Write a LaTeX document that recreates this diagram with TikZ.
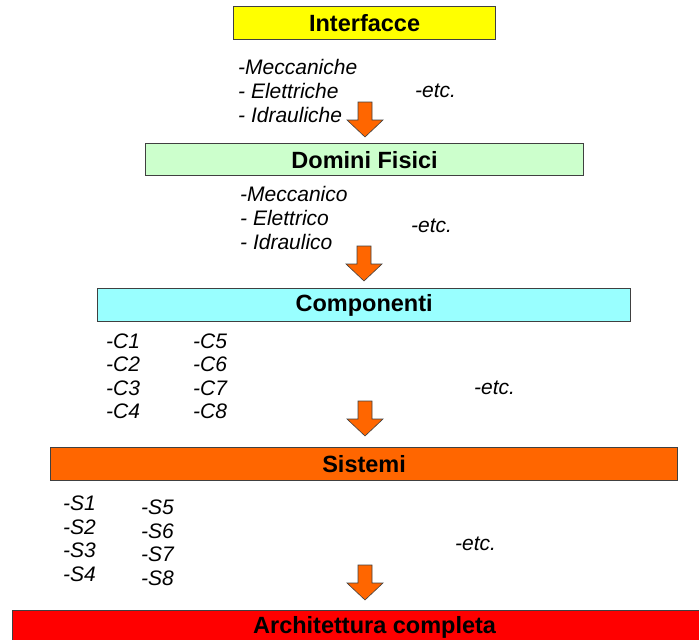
\documentclass[tikz,border=0pt]{standalone}
\usepackage{fontspec}
\setmainfont{Liberation Sans}
\definecolor{boxline}{HTML}{404040}
\definecolor{cyellow}{HTML}{FFFF00}
\definecolor{cgreen}{HTML}{CCFFCC}
\definecolor{ccyan}{HTML}{99FFFF}
\definecolor{corange}{HTML}{FF6600}
\definecolor{cred}{HTML}{FF0000}
\tikzset{
  stage/.style={draw=boxline, line width=1.2pt, anchor=north west, inner sep=0pt,
    font=\bfseries\fontsize{23.5}{27}\selectfont},
  item/.style={anchor=base west, inner sep=0pt, font=\itshape\fontsize{21}{24}\selectfont},
  blockarrow/.style={fill=corange, draw=boxline, line width=0.6pt, line join=miter},
  pics/downarrow/.style={code={
    \draw[blockarrow] (-7,0) -- (7,0) -- (7,18) -- (18,18) -- (0,35)
      -- (-18,18) -- (-7,18) -- cycle;}}
}
\begin{document}
\begin{tikzpicture}[x=1pt,y=-1pt]
\useasboundingbox (0,0) rectangle (699,640);

% stage boxes
\node[stage, fill=cyellow, minimum width=262pt, minimum height=33pt] (interf) at (233,6) {Interfacce};
\node[stage, fill=cgreen, minimum width=438pt, minimum height=32pt] (domini) at (145,143) {Domini Fisici};
\node[stage, fill=ccyan, minimum width=533pt, minimum height=33pt] (comp) at (97,288) {Componenti};
\node[stage, fill=corange, minimum width=627pt, minimum height=33pt] (sist) at (50,447) {Sistemi};
\node[stage, fill=cred, minimum width=724pt, minimum height=34pt] (arch) at (12,610) {Architettura completa};

% items under Interfacce
\node[item] (i1) at (238,74) {-Meccaniche};
\node[item] (i2) at (238,98) {- Elettriche};
\node[item] (i3) at (238,122) {- Idrauliche};
\node[item] (ietc) at (415,97) {-etc.};

% items under Domini Fisici
\node[item] (d1) at (240,201) {-Meccanico};
\node[item] (d2) at (240,225) {- Elettrico};
\node[item] (d3) at (240,249) {- Idraulico};
\node[item] (detc) at (411,232) {-etc.};

% items under Componenti
\foreach \k/\y in {1/348,2/371,3/395,4/418}{
  \node[item] (c\k) at (106,\y) {-C\k};}
\foreach \k/\y in {5/348,6/371,7/395,8/418}{
  \node[item] (c\k) at (193,\y) {-C\k};}
\node[item] (cetc) at (474,394) {-etc.};

% items under Sistemi
\foreach \k/\y in {1/510,2/534,3/557,4/581}{
  \node[item] (s\k) at (63,\y) {-S\k};}
\foreach \k/\y in {5/514,6/538,7/561,8/585}{
  \node[item] (s\k) at (141,\y) {-S\k};}
\node[item] (setc) at (455,550) {-etc.};

% flow arrows between stages
\coordinate (a1) at (365,102);
\coordinate (a2) at (364,246);
\coordinate (a3) at (365,401);
\coordinate (a4) at (365,565);
\foreach \a in {a1,a2,a3,a4}{ \pic at (\a) {downarrow}; }
\end{tikzpicture}
\end{document}
